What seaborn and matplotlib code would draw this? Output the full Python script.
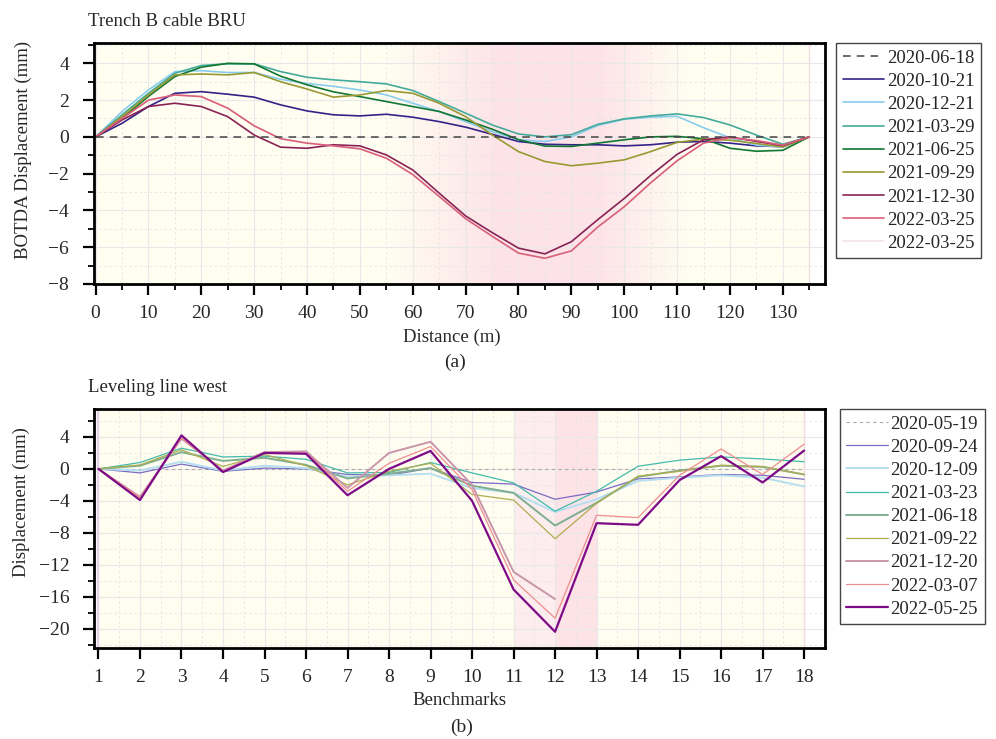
import numpy as np
import pandas as pd
import matplotlib
matplotlib.use("Agg")
import matplotlib.pyplot as plt
import seaborn as sns
from matplotlib.colors import LinearSegmentedColormap
from matplotlib.ticker import MultipleLocator

# ---------------- data: (a) BOTDA, Trench B cable BRU ----------------
distance_m = [0, 5, 10, 15, 20, 25, 30, 35, 40, 45, 50, 55, 60, 65, 70,
              75, 80, 85, 90, 95, 100, 105, 110, 115, 120, 125, 130, 135]
d_2020_06_18 = [0.0] * 28
d_2020_10_21 = [0, 0.74, 1.65, 2.37, 2.46, 2.32, 2.16, 1.74, 1.41, 1.2, 1.14, 1.23, 1.07, 0.83,
                0.53, 0.14, -0.25, -0.4, -0.43, -0.43, -0.49, -0.43, -0.29, -0.25, -0.34, -0.49, -0.53, 0]
d_2020_12_21 = [0, 1.38, 2.55, 3.55, 3.6, 3.5, 3.5, 3.13, 2.9, 2.75, 2.55, 2.28, 1.83, 1.38,
                0.83, 0.29, -0.16, -0.25, 0.0, 0.62, 0.96, 1.07, 1.12, 0.5, -0.05, -0.45, -0.55, 0]
d_2021_03_29 = [0, 1.2, 2.37, 3.46, 3.88, 3.97, 3.97, 3.55, 3.24, 3.1, 3.0, 2.88, 2.52, 1.92,
                1.29, 0.65, 0.16, 0.0, 0.12, 0.68, 0.98, 1.14, 1.25, 1.05, 0.65, 0.1, -0.4, 0]
d_2021_06_25 = [0, 1.0, 2.2, 3.28, 3.79, 4.0, 3.97, 3.3, 2.83, 2.45, 2.19, 1.92, 1.65, 1.38,
                0.92, 0.42, -0.15, -0.5, -0.52, -0.34, -0.16, 0.0, 0.03, -0.1, -0.62, -0.78, -0.73, 0]
d_2021_09_29 = [0, 1.1, 2.28, 3.37, 3.42, 3.37, 3.5, 3.0, 2.6, 2.16, 2.28, 2.52, 2.37, 1.83,
                1.1, 0.11, -0.8, -1.34, -1.57, -1.43, -1.25, -0.8, -0.3, -0.12, -0.18, -0.36, -0.55, 0]
d_2021_12_30 = [0, 0.92, 1.65, 1.83, 1.65, 1.1, 0.1, -0.56, -0.62, -0.43, -0.49, -0.98, -1.8, -3.06,
                -4.3, -5.2, -6.05, -6.36, -5.7, -4.5, -3.35, -2.1, -0.95, -0.16, 0.0, -0.25, -0.47, 0]
d_2022_03_25 = [0, 1.0, 2.0, 2.28, 2.19, 1.56, 0.6, -0.1, -0.34, -0.49, -0.65, -1.16, -2.05, -3.24,
                -4.45, -5.4, -6.32, -6.6, -6.2, -4.9, -3.8, -2.5, -1.3, -0.34, -0.04, -0.2, -0.45, 0]
d_2022_03_25b = list(d_2022_03_25)

botda_labels = ["2020-06-18", "2020-10-21", "2020-12-21", "2021-03-29", "2021-06-25",
                "2021-09-29", "2021-12-30", "2022-03-25", "2022-03-25"]
botda_series = [d_2020_06_18, d_2020_10_21, d_2020_12_21, d_2021_03_29, d_2021_06_25,
                d_2021_09_29, d_2021_12_30, d_2022_03_25, d_2022_03_25b]

# ---------------- data: (b) Leveling line west ----------------
benchmarks = list(range(1, 19))
nan = np.nan
l_2020_05_19 = [0.0] * 18
l_2020_09_24 = [0, -0.5, 0.6, -0.3, 0.1, 0.0, -0.7, -0.8, 0.1, -1.7, -1.9, -3.8, -2.9, -1.25, -1.0, -0.7, -0.8, -1.3]
l_2020_12_09 = [0, -0.2, 0.9, -0.2, 0.4, 0.1, -1.0, -0.8, -0.6, -2.4, -3.0, -5.4, -3.8, -1.5, -1.1, -0.8, -1.1, -2.2]
l_2021_03_23 = [0, 0.8, 2.6, 1.5, 1.6, 1.2, -0.5, -0.45, 0.8, -0.5, -1.75, -5.3, -2.8, 0.33, 1.1, 1.5, 1.25, 0.9]
l_2021_06_18 = [0, 0.4, 2.1, 1.0, 1.4, 0.5, -1.2, -0.6, 0.1, -2.1, -3.0, -7.1, -4.25, -1.0, -0.2, 0.4, 0.25, -0.7]
l_2021_09_22 = [0, 0.5, 2.4, 0.3, 1.8, 0.4, -2.0, -0.3, 0.7, -3.2, -3.9, -8.75, -4.3, -0.9, -0.3, 0.45, 0.3, -0.7]
l_2021_12_20 = [0, -3.5, 3.8, -0.2, 2.1, 2.2, -2.4, 2.0, 3.4, -2.0, -12.9, -16.3, nan, nan, nan, nan, nan, nan]
l_2022_03_07 = [0, -3.6, 3.9, -0.3, 2.0, 2.0, -2.8, 0.7, 2.8, -2.6, -13.9, -18.7, -5.8, -6.1, -0.8, 2.5, -0.7, 3.1]
l_2022_05_25 = [0, -3.9, 4.2, -0.4, 2.0, 1.9, -3.3, 0.0, 2.25, -4.0, -15.1, -20.4, -6.8, -7.0, -1.4, 1.6, -1.7, 2.3]

level_labels = ["2020-05-19", "2020-09-24", "2020-12-09", "2021-03-23", "2021-06-18",
                "2021-09-22", "2021-12-20", "2022-03-07", "2022-05-25"]
level_series = [l_2020_05_19, l_2020_09_24, l_2020_12_09, l_2021_03_23, l_2021_06_18,
                l_2021_09_22, l_2021_12_20, l_2022_03_07, l_2022_05_25]

# ---------------- styles ----------------
botda_colors = ["#444444", "#332288", "#88ccee", "#44aa99", "#117733",
                "#999933", "#882255", "#d9607a", "#f3e4e8"]
botda_z = [3, 2, 2, 2, 2, 2, 2, 2.2, 1.5]
level_colors = ["#aaaaaa", "#7a6bc4", "#b5def0", "#44bbaa", "#7fae90",
                "#b0ad50", "#c995ab", "#ee8e8e", "#7d0a86"]
level_widths = [0.8, 0.9, 1.4, 0.9, 1.4, 0.9, 1.4, 0.9, 1.6]

sns.set_theme(style="ticks")
plt.rcParams["font.family"] = ["Liberation Serif", "DejaVu Serif"]
plt.rcParams["axes.unicode_minus"] = True

fig = plt.figure(figsize=(9.96, 7.39), dpi=100)
ax1 = fig.add_axes([0.0944, 0.6157, 0.734, 0.326])
ax2 = fig.add_axes([0.0947, 0.1235, 0.7335, 0.323])

FS = 13.5

# ---------- background (a): yellow -> pink -> yellow gradient ----------
cmap = LinearSegmentedColormap.from_list("yp", ["#fffef1", "#fde3e8"])
gx = np.linspace(0, 135, 541)
pink = np.interp(gx, [0, 55, 76, 95, 112, 135], [0, 0, 1, 1, 0, 0])
ax1.imshow(pink[None, :], extent=[0, 135, -8, 5.1], aspect="auto", cmap=cmap,
           vmin=0, vmax=1, zorder=0, interpolation="bilinear")
ax1.axvline(135, color="#f2dbe1", lw=1, zorder=0.6)

h1 = []
for lab, ys, col, z in zip(botda_labels, botda_series, botda_colors, botda_z):
    ls = (0, (5, 4)) if lab == "2020-06-18" else "-"
    lw = 1.1 if lab == "2020-06-18" else 1.2
    sns.lineplot(x=distance_m, y=ys, ax=ax1, color=col, lw=lw, linestyle=ls, zorder=z)
    line = ax1.lines[-1]
    line.set_label(lab)
    h1.append(line)

ax1.set_xlim(-0.3, 138)
ax1.set_ylim(-8, 5.1)
ax1.xaxis.set_major_locator(MultipleLocator(10))
ax1.xaxis.set_minor_locator(MultipleLocator(5))
ax1.yaxis.set_major_locator(MultipleLocator(2))
ax1.yaxis.set_minor_locator(MultipleLocator(1))
ax1.set_xlabel("Distance (m)", fontsize=FS)
ax1.set_ylabel("BOTDA Displacement (mm)", fontsize=FS)
ax1.xaxis.set_label_coords(0.49, -0.185)
ax1.yaxis.set_label_coords(-0.085, 0.555)

# ---------- background (b) ----------
ax2.axvspan(1, 11, color="#fffdf0", zorder=0, lw=0)
ax2.axvspan(11, 12, color="#fdedee", zorder=0, lw=0)
ax2.axvspan(12, 13, color="#fde2e6", zorder=0, lw=0)
ax2.axvspan(13, 18, color="#fffdf0", zorder=0, lw=0)
ax2.axvline(1, color="#e6d3ea", lw=1.6, zorder=0.6)
ax2.axvline(18, color="#f1dce6", lw=1.0, zorder=0.6)

h2 = []
for lab, ys, col, w in zip(level_labels, level_series, level_colors, level_widths):
    ls = (0, (3, 3)) if lab == "2020-05-19" else "-"
    sns.lineplot(x=benchmarks, y=ys, ax=ax2, color=col, lw=w, linestyle=ls, zorder=2)
    line = ax2.lines[-1]
    line.set_label(lab)
    h2.append(line)

ax2.set_xlim(0.9, 18.5)
ax2.set_ylim(-22.4, 7.5)
ax2.xaxis.set_major_locator(MultipleLocator(1))
ax2.xaxis.set_minor_locator(MultipleLocator(0.5))
ax2.yaxis.set_major_locator(MultipleLocator(4))
ax2.yaxis.set_minor_locator(MultipleLocator(2))
ax2.set_xlabel("Benchmarks", fontsize=FS)
ax2.set_ylabel("Displacement (mm)", fontsize=FS)
ax2.xaxis.set_label_coords(0.5, -0.185)
ax2.yaxis.set_label_coords(-0.088, 0.61)

for ax, hs, off in ((ax1, h1, 1.015), (ax2, h2, 1.0205)):
    ax.grid(which="major", color="#e8e8e8", lw=0.8, ls="-")
    ax.grid(which="minor", color="#e4e4e4", lw=0.6, ls=(0, (3, 3)))
    ax.set_axisbelow(True)
    for s in ax.spines.values():
        s.set_visible(True)
        s.set_linewidth(2.0)
        s.set_color("black")
    ax.tick_params(which="major", direction="out", length=8, width=1.6,
                   labelsize=14, color="black")
    ax.tick_params(which="minor", direction="out", length=4, width=1.3, color="black")
    ax.tick_params(axis="y", which="major", pad=10)
    ax.tick_params(axis="x", which="major", pad=7)
    leg = ax.legend(handles=hs, labels=[h.get_label() for h in hs],
                    loc="upper left", bbox_to_anchor=(off, 1.0), borderaxespad=0,
                    fontsize=13.5, frameon=True, fancybox=False, framealpha=1,
                    edgecolor="#444444", handlelength=2.2, handletextpad=0.15,
                    labelspacing=0.32, borderpad=0.35)
    leg.get_frame().set_linewidth(1.0)
ax2.tick_params(axis="x", which="minor", length=0)

fig.text(88 / 996, 1 - 22 / 739, "Trench B cable BRU", fontsize=FS, va="center", ha="left")
fig.text(88 / 996, 1 - 388 / 739, "Leveling line west", fontsize=FS, va="center", ha="left")
fig.text(455 / 996, 1 - 362 / 739, "(a)", fontsize=14, va="center", ha="center")
fig.text(462 / 996, 1 - 727 / 739, "(b)", fontsize=14, va="center", ha="center")

fig.savefig("out.png", dpi=100)
